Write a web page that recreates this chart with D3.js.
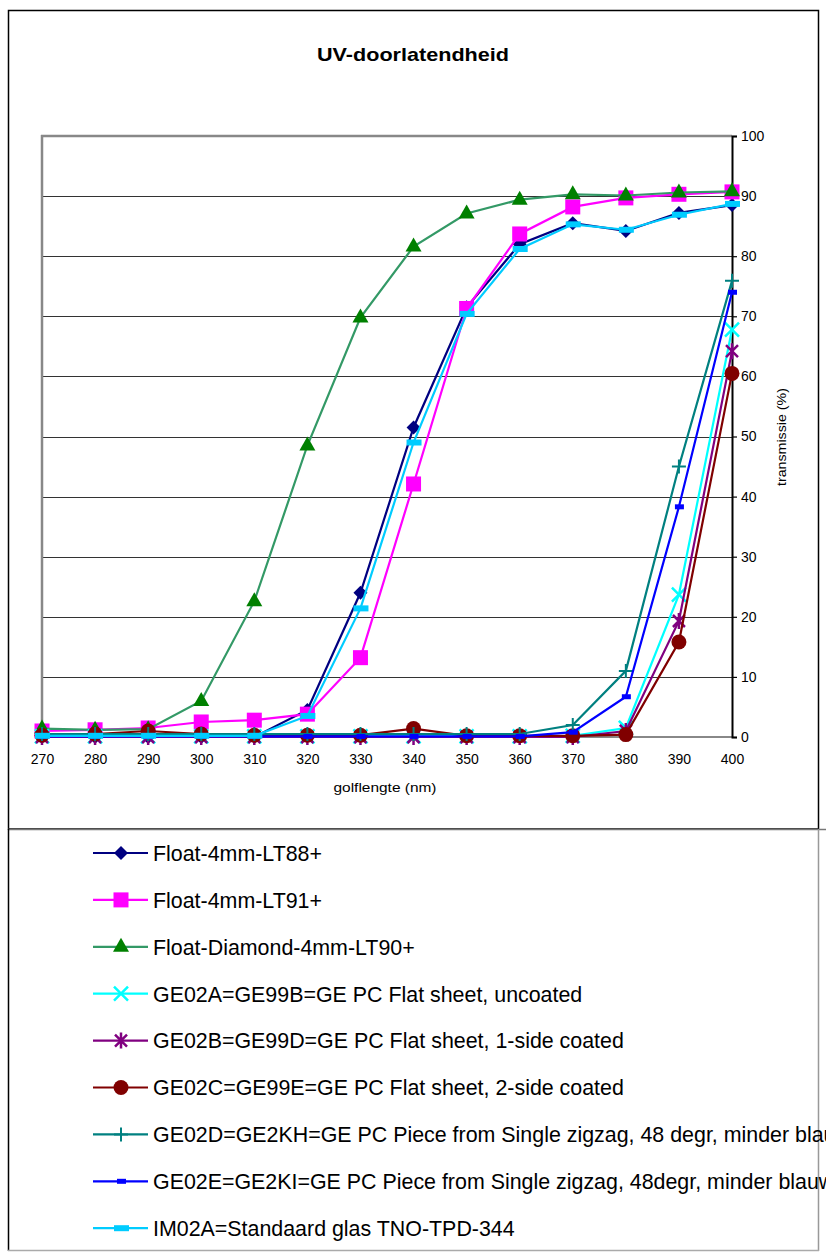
<!DOCTYPE html>
<html><head><meta charset="utf-8">
<script src="https://cdn.jsdelivr.net/npm/d3@7"></script>
<style>body{margin:0;background:#fff}svg{display:block}text{font-family:"Liberation Sans",Arial,sans-serif}</style>
</head><body>
<svg id="c" width="826" height="1253"></svg>
<script>
const wavelengths = [270,280,290,300,310,320,330,340,350,360,370,380,390,400];
const yTicks = [0,10,20,30,40,50,60,70,80,90,100];
const seriesNames = [
  "Float-4mm-LT88+",
  "Float-4mm-LT91+",
  "Float-Diamond-4mm-LT90+",
  "GE02A=GE99B=GE PC Flat sheet, uncoated",
  "GE02B=GE99D=GE PC Flat sheet, 1-side coated",
  "GE02C=GE99E=GE PC Flat sheet, 2-side coated",
  "GE02D=GE2KH=GE PC Piece from Single zigzag, 48 degr, minder blauw",
  "GE02E=GE2KI=GE PC Piece from Single zigzag, 48degr, minder blauw",
  "IM02A=Standaard glas TNO-TPD-344"
];
const float88   = [0,0,0,0,0,4.5,24,51.5,71.5,82,85.5,84.2,87.2,88.5];
const float91   = [1.0,1.2,1.5,2.5,2.8,3.8,13.2,42.1,71.3,83.7,88.2,89.7,90.3,90.7];
const diamond90 = [1.4,1.2,1.3,6,22.6,48.5,69.8,81.6,87.1,89.4,90.3,90.1,90.6,90.8];
const ge02a     = [0.1,0.1,0.1,0.1,0.1,0.1,0.1,0.1,0.1,0.1,0.2,1.5,23.7,67.8];
const ge02b     = [0,0,0,0,0,0,0,0,0,0,0,1.0,19.3,64.2];
const ge02c     = [0.3,0.5,1.0,0.5,0.3,0.3,0.3,1.4,0.2,0.2,0.2,0.4,15.8,60.5];
const ge02d     = [0.5,0.5,0.5,0.5,0.5,0.5,0.5,0.5,0.5,0.5,2.0,11.0,45.0,75.9];
const ge02e     = [0.1,0.1,0.1,0.1,0.1,0.1,0.1,0.1,0.1,0.1,0.8,6.7,38.3,74.0];
const im02a     = [0.2,0.2,0.2,0.2,0.2,3.5,21.4,49.0,70.4,81.2,85.3,84.4,86.9,88.7];
const seriesValues = [float88,float91,diamond90,ge02a,ge02b,ge02c,ge02d,ge02e,im02a];

const lineColors   = ["#000080","#FF00FF","#339966","#00FFFF","#800080","#800000","#008080","#0000FF","#00CCFF"];
const markerColors = ["#000080","#FF00FF","#008000","#00FFFF","#800080","#800000","#008080","#0000FF","#00CCFF"];
const markerTypes  = ["diamond","square","triangle","x","star","circle","plus","dash","bar"];

const svg = d3.select("#c");
const x = d3.scaleLinear().domain([270,400]).range([42,732]);
const y = d3.scaleLinear().domain([0,100]).range([737,136]);

// outer frames
svg.append("rect").attr("x",8.5).attr("y",10.5).attr("width",810).attr("height",818.5)
  .attr("fill","none").attr("stroke","#000").attr("stroke-width",1.5);
svg.append("line").attr("x1",8).attr("x2",826).attr("y1",829.5).attr("y2",829.5).attr("stroke","#777").attr("stroke-width",1.5);
svg.append("line").attr("x1",8.5).attr("x2",8.5).attr("y1",829).attr("y2",1251).attr("stroke","#000").attr("stroke-width",1.5);
svg.append("line").attr("x1",818.5).attr("x2",818.5).attr("y1",829).attr("y2",1251).attr("stroke","#999").attr("stroke-width",1.5);
svg.append("line").attr("x1",8).attr("x2",819).attr("y1",1250.5).attr("y2",1250.5).attr("stroke","#aaa").attr("stroke-width",1.5);

// title
svg.append("text").attr("x",413).attr("y",61).attr("text-anchor","middle")
  .attr("font-size",19).attr("font-weight","bold").attr("textLength",192).attr("lengthAdjust","spacingAndGlyphs")
  .text("UV-doorlatendheid");

// gridlines
svg.append("g").selectAll("line").data(yTicks.filter(t=>t>0 && t<100)).join("line")
  .attr("x1",42).attr("x2",732).attr("y1",d=>Math.round(y(d))+0.5).attr("y2",d=>Math.round(y(d))+0.5)
  .attr("stroke","#333").attr("stroke-width",1);

// plot frame: left and top gray
svg.append("line").attr("x1",42).attr("x2",42).attr("y1",135).attr("y2",737).attr("stroke","#888").attr("stroke-width",2.5);
svg.append("line").attr("x1",41).attr("x2",732).attr("y1",136).attr("y2",136).attr("stroke","#888").attr("stroke-width",2.5);
svg.append("line").attr("x1",42).attr("x2",732).attr("y1",737).attr("y2",737).attr("stroke","#888").attr("stroke-width",2);

// right axis
const yAxis = d3.axisRight(y).tickValues(yTicks).tickSize(5).tickPadding(4).tickFormat(d3.format("d"));
const ga = svg.append("g").attr("transform","translate(732,0)").call(yAxis);
ga.select(".domain").attr("stroke","#000").attr("stroke-width",2);
ga.selectAll(".tick line").attr("stroke","#000").attr("stroke-width",1.2);
ga.selectAll(".tick text").attr("font-size",14).attr("font-family","Liberation Sans, Arial, sans-serif").attr("fill","#000");

// bottom axis labels
const xAxis = d3.axisBottom(x).tickValues(wavelengths).tickSize(0).tickPadding(17).tickFormat(d3.format("d"));
const gx = svg.append("g").attr("transform","translate(0,737)").call(xAxis);
gx.select(".domain").remove();
gx.selectAll(".tick text").attr("font-size",14).attr("font-family","Liberation Sans, Arial, sans-serif").attr("fill","#000");

// axis titles
svg.append("text").attr("x",385).attr("y",792).attr("text-anchor","middle").attr("font-size",13)
  .attr("textLength",103).attr("lengthAdjust","spacingAndGlyphs").text("golflengte (nm)");
svg.append("text").attr("transform","translate(786,437) rotate(-90)").attr("text-anchor","middle").attr("font-size",13)
  .attr("textLength",98).attr("lengthAdjust","spacingAndGlyphs").text("transmissie (%)");

function drawMarker(g, type, color) {
  switch(type) {
    case "diamond": g.append("path").attr("d","M0,-7L7,0L0,7L-7,0Z").attr("fill",color); break;
    case "square": g.append("rect").attr("x",-7.5).attr("y",-7.5).attr("width",15).attr("height",15).attr("fill",color); break;
    case "triangle": g.append("path").attr("d","M0,-9L8,5L-8,5Z").attr("fill",color); break;
    case "x": g.append("path").attr("d","M-7,-7L7,7M-7,7L7,-7").attr("stroke",color).attr("stroke-width",2.5).attr("fill","none"); break;
    case "star": g.append("path").attr("d","M-6,-6L6,6M-6,6L6,-6M0,-8L0,8").attr("stroke",color).attr("stroke-width",2.5).attr("fill","none"); break;
    case "circle": g.append("circle").attr("r",7.5).attr("fill",color); break;
    case "plus": g.append("path").attr("d","M-7,0L7,0M0,-7L0,7").attr("stroke",color).attr("stroke-width",2).attr("fill","none"); break;
    case "dash": g.append("rect").attr("x",-4).attr("y",-2.5).attr("width",9).attr("height",5).attr("fill",color); break;
    case "bar": g.append("rect").attr("x",-7).attr("y",-3).attr("width",15).attr("height",6).attr("fill",color); break;
  }
}

const line = d3.line().x(d=>x(d[0])).y(d=>y(d[1]));
const plot = svg.append("g");
seriesValues.forEach((vals,i)=>{
  const pts = wavelengths.map((w,j)=>[w,vals[j]]);
  const g = plot.append("g");
  g.append("path").attr("d",line(pts)).attr("fill","none").attr("stroke",lineColors[i]).attr("stroke-width",2.2);
  pts.forEach(p=>{
    const m = g.append("g").attr("transform",`translate(${x(p[0])},${y(p[1])})`);
    drawMarker(m, markerTypes[i], markerColors[i]);
  });
});

// legend
const leg = svg.append("g");
seriesNames.forEach((name,i)=>{
  const cy = 853 + i*46.9;
  const g = leg.append("g").attr("transform",`translate(0,${cy})`);
  g.append("line").attr("x1",93).attr("x2",148).attr("y1",0).attr("y2",0).attr("stroke",lineColors[i]).attr("stroke-width",2.2);
  const m = g.append("g").attr("transform","translate(121,0)");
  drawMarker(m, markerTypes[i], markerColors[i]);
  g.append("text").attr("x",153).attr("y",7.8).attr("font-size",21.4).attr("fill","#000").text(name);
});
</script>
</body></html>
